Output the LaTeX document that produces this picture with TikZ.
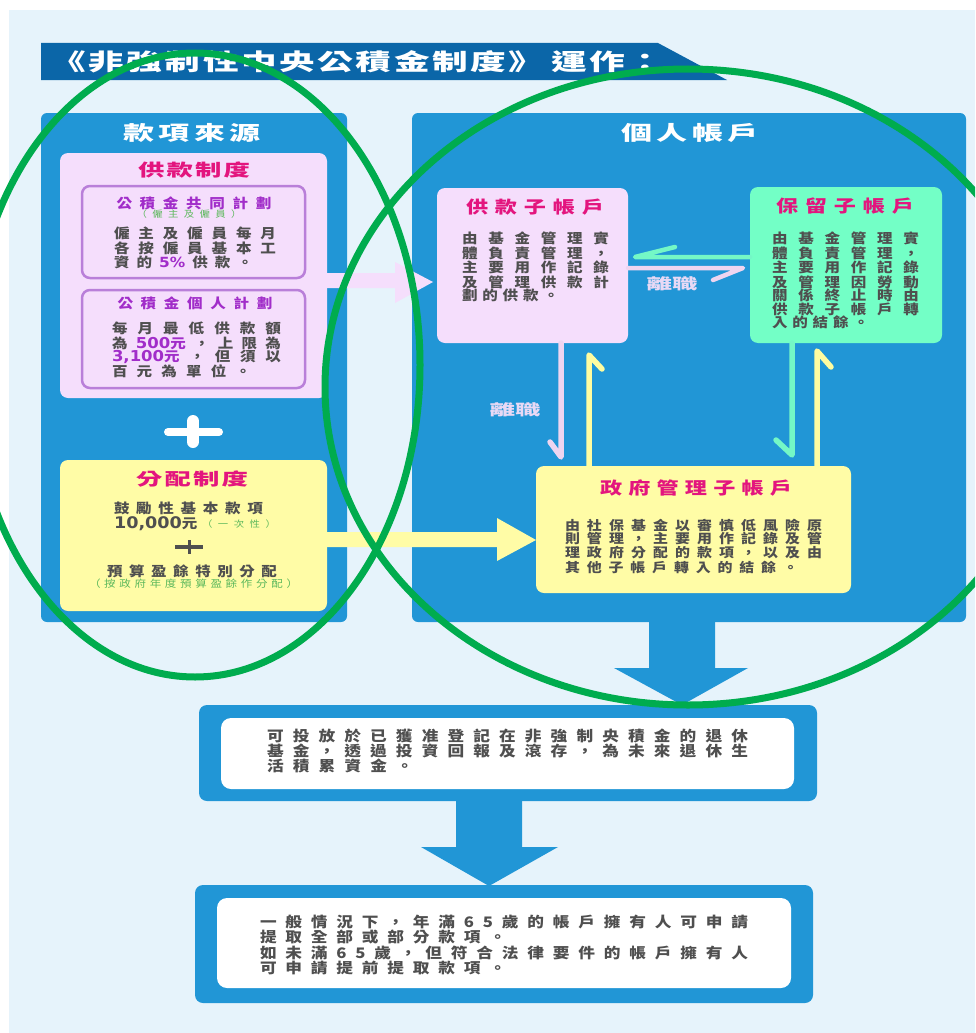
\documentclass[tikz,border=0pt]{standalone}
\usepackage{fontspec}
\usepackage{graphicx}
\newfontfamily\fb[FakeStretch=1.15]{Noto Sans CJK TC}
\newfontfamily\fm[FakeStretch=1.3]{Noto Sans CJK TC}
\newfontfamily\fw[FakeStretch=1.55]{Noto Sans CJK TC}
\newfontfamily\fx[FakeStretch=1.7]{Noto Sans CJK TC}
\newfontfamily\fd[FakeStretch=1.1]{DejaVu Sans}
\definecolor{bgc}{HTML}{E6F3FB}
\definecolor{pnl}{HTML}{2196D6}
\definecolor{ttl}{HTML}{0B66A8}
\definecolor{pk}{HTML}{F5DEFC}
\definecolor{pkb}{HTML}{B97FD9}
\definecolor{gr}{HTML}{73FFC6}
\definecolor{yl}{HTML}{FFFCA6}
\definecolor{mg}{HTML}{E3157E}
\definecolor{pu}{HTML}{A12DC9}
\definecolor{sg}{HTML}{5CB85C}
\definecolor{tx}{HTML}{4F4F4F}
\definecolor{lv}{HTML}{E8D9F5}
\definecolor{ring}{HTML}{00AC4E}
\definecolor{hgr}{HTML}{74F7C6}
\definecolor{hpk}{HTML}{EED5F0}
\definecolor{hyl}{HTML}{FFFCA0}
\makeatletter
\def\spr#1{\spr@a#1\spr@end}
\def\spr@end{\spr@end@x}
\def\spr@a#1{\ifx#1\spr@end\else#1\expandafter\spr@b\fi}
\def\spr@b#1{\ifx#1\spr@end\else\hfil#1\expandafter\spr@b\fi}
\makeatother
\newcommand\J[2]{\makebox[#1][s]{\spr{#2}}}
\newcommand\pnum[1]{{\fd\bfseries\fontsize{15}{15}\selectfont #1}}
\tikzset{
  panel/.style={anchor=north west, fill=pnl, rounded corners=6pt, inner sep=0pt, outer sep=0pt},
  card/.style={anchor=north west, rounded corners=8pt, inner sep=0pt, outer sep=0pt},
  wcard/.style={anchor=north west, fill=white, rounded corners=10pt, inner sep=0pt, outer sep=0pt},
  hdr/.style={inner sep=0pt, outer sep=0pt, text=white, font=\fw\bfseries\fontsize{20}{20}\selectfont},
  ctitle/.style={inner sep=0pt, outer sep=0pt, text=mg, font=\fw\bfseries\fontsize{17}{17}\selectfont},
  stitle/.style={inner sep=0pt, outer sep=0pt, text=mg, font=\fm\bfseries\fontsize{17}{17}\selectfont},
  ptitle/.style={inner sep=0pt, outer sep=0pt, text=pu, font=\fb\bfseries\fontsize{13.5}{14}\selectfont},
  small/.style={inner sep=0pt, outer sep=0pt, text=sg, font=\fb\fontsize{9}{9}\selectfont},
  body/.style={inner sep=0pt, outer sep=0pt, anchor=west, text=tx, font=\fb\bfseries\fontsize{13.5}{14}\selectfont},
  bodys/.style={body, font=\fb\bfseries\fontsize{13}{13}\selectfont},
  bodyl/.style={body, font=\fb\bfseries\fontsize{14.5}{15}\selectfont},
  lbl/.style={inner sep=0pt, outer sep=0pt, text=lv, font=\fx\bfseries\fontsize{15}{15}\selectfont},
  hph/.style={line width=4.5pt, line cap=round, line join=round},
  hpv/.style={line width=5.5pt, line cap=round, line join=round},
}
\begin{document}
\begin{tikzpicture}[x=1pt,y=-1pt]
\useasboundingbox (0,0) rectangle (975,1033);
\clip (0,0) rectangle (975,1033);
\fill[white] (0,0) rectangle (975,1033);
\fill[bgc] (9,10) rectangle (975,1033);

% title
\fill[ttl] (41,43) -- (658,43) -- (727,80) -- (41,80) -- cycle;
\node[anchor=west, inner sep=0pt, text=white, font=\fw\bfseries\fontsize{23}{23}\selectfont] (title) at (50,62)
  {\makebox[613pt][s]{\spr{《非強制性中央公積金制度》}\hspace{4pt}\hfil\spr{運作：}}};

% panels
\node[panel, minimum width=306pt, minimum height=509pt] (lp) at (41,113) {};
\node[panel, minimum width=554pt, minimum height=509pt] (rp) at (412,113) {};
\node[hdr] (lph) at (192,133) {\J{138pt}{款項來源}};
\node[hdr] (rph) at (690,133) {\J{138pt}{個人帳戶}};

% contribution system
\node[card, fill=pk, minimum width=267pt, minimum height=245pt] (pkb) at (60,153) {};
\node[ctitle] (pkt) at (194,170) {\J{112pt}{供款制度}};
\node[card, fill=pk, draw=pkb, line width=2.5pt, minimum width=223pt, minimum height=92pt] (s1) at (82,186) {};
\node[ptitle] (s1t) at (194,203) {\J{155pt}{公積金共同計劃}};
\node[small] (s1s) at (189,214) {\J{105pt}{（僱主及僱員）}};
\node[body] (s1a) at (114,233) {\J{162pt}{僱主及僱員每月}};
\node[body] (s1b) at (114,248) {\J{162pt}{各按僱員基本工}};
\node[body] (s1c) at (114,262) {\makebox[139pt][s]{資\hfil 的\hfil {\color{pu}{\fd\bfseries\fontsize{14}{14}\selectfont 5\%}}\hfil 供\hfil 款\hfil 。}};

\node[card, fill=pk, draw=pkb, line width=2.5pt, minimum width=223pt, minimum height=98pt] (s2) at (82,290) {};
\node[ptitle] (s2t) at (195,303) {\J{155pt}{公積金個人計劃}};
\node[body] (s2a) at (112,328) {\J{169pt}{每月最低供款額}};
\node[body] (s2b) at (112,343) {\makebox[169pt][s]{為\hfil {\color{pu}\pnum{500}元}\hfil ，\hfil 上\hfil 限\hfil 為}};
\node[body] (s2c) at (112,357) {\makebox[169pt][s]{{\color{pu}\pnum{3,100}元}\hfil ，\hfil 但\hfil 須\hfil 以}};
\node[body] (s2d) at (112,371) {\J{139pt}{百元為單位。}};

% white plus
\draw[white, line width=8pt, line cap=round] (168,432) -- (219,432);
\draw[white, line width=12pt, line cap=round] (193,421) -- (193,442);

% allocation system
\node[card, fill=yl, minimum width=267pt, minimum height=151pt] (ylb) at (60,460) {};
\node[ctitle] (ylt) at (192,479) {\J{112pt}{分配制度}};
\node[body] (yla) at (114,508) {\J{149pt}{鼓勵性基本款項}};
\node[body] (ylb2) at (114,524) {{\fd\bfseries\fontsize{16}{16}\selectfont 10,000}元};
\node[small, anchor=west] (ylc) at (202,524) {\J{74pt}{（一次性）}};
\draw[tx, line width=3.5pt] (175,547) -- (203,547);
\draw[tx, line width=3pt] (189,540) -- (189,554);
\node[body] (yld) at (107,571) {\J{170pt}{預算盈餘特別分配}};
\node[small, font=\fb\fontsize{10}{10}\selectfont] (yle) at (193.5,584) {\J{209pt}{（按政府年度預算盈餘作分配）}};

% sub-accounts
\node[card, fill=pk, minimum width=191pt, minimum height=155pt] (ka) at (437,188) {};
\node[stitle] (kat) at (535,207) {\J{138pt}{供款子帳戶}};
\node[body] at (462,238) {\J{147pt}{由基金管理實}};
\node[body] at (462,253) {\J{147pt}{體負責管理，}};
\node[body] at (462,267) {\J{147pt}{主要用作記錄}};
\node[body] at (462,282) {\J{147pt}{及管理供款計}};
\node[body] at (462,295) {\J{97pt}{劃的供款。}};

\node[card, fill=gr, minimum width=192pt, minimum height=156pt] (kb) at (750,187) {};
\node[stitle] (kbt) at (845,206) {\J{138pt}{保留子帳戶}};
\node[body] at (772,238) {\J{147pt}{由基金管理實}};
\node[body] at (772,253) {\J{147pt}{體負責管理，}};
\node[body] at (772,267) {\J{147pt}{主要用作記錄}};
\node[body] at (772,282) {\J{147pt}{及管理因勞動}};
\node[body] at (772,295) {\J{147pt}{關係終止時由}};
\node[body] at (772,309) {\J{147pt}{供款子帳戶轉}};
\node[body] at (772,322) {\J{97pt}{入的結餘。}};

\node[card, fill=yl, minimum width=315pt, minimum height=127pt] (kc) at (536,466) {};
\node[stitle] (kct) at (696,488) {\J{192pt}{政府管理子帳戶}};
\node[bodys] at (565,525) {\J{257pt}{由社保基金以審慎低風險原}};
\node[bodys] at (565,539) {\J{257pt}{則管理，主要用作記錄及管}};
\node[bodys] at (565,553) {\J{257pt}{理政府分配的款項，以及由}};
\node[bodys] at (565,567) {\J{233pt}{其他子帳戶轉入的結餘。}};

% block arrows from left panel
\fill[pk] (325,273) -- (395,273) -- (395,262) -- (433,282) -- (395,303) -- (395,288) -- (325,288) -- cycle;
\fill[yl] (327,532) -- (497,532) -- (497,518) -- (536,540) -- (497,561) -- (497,547) -- (327,547) -- cycle;

% harpoons
\coordinate (t1) at (635,257);
\coordinate (t2) at (743,268);
\coordinate (t3) at (561,457);
\coordinate (t4) at (589,355);
\coordinate (t5) at (792,455);
\coordinate (t6) at (817,351);
\draw[hph, draw=hgr] (kb.west |- t1) -- (t1) -- ++(40,-10);
\draw[hph, draw=hpk] (ka.east |- t2) -- (t2) -- ++(-30,12);
\draw[hpv, draw=hpk] (ka.south -| t3) -- (t3) -- ++(-11,-15);
\draw[hpv, draw=hyl] (kc.north -| t4) -- (t4) -- ++(13,14);
\draw[hpv, draw=hgr] (kb.south -| t5) -- (t5) -- ++(-16,-15);
\draw[hpv, draw=hyl] (kc.north -| t6) -- (t6) -- ++(14,16);
\node[lbl] (l1) at (672,284) {離職};
\node[lbl] (l2) at (515,410) {離職};

% bottom boxes
\fill[pnl] (649,618) -- (715,618) -- (715,668) -- (748,668) -- (682,705) -- (614,668) -- (649,668) -- cycle;
\node[card, fill=pnl, minimum width=618pt, minimum height=96pt] (b1) at (199,705) {};
\node[wcard, minimum width=573pt, minimum height=71pt] (w1) at (221,718) {};
\node[bodyl] at (267,736) {\J{481pt}{可投放於已獲准登記在非強制央積金的退休}};
\node[bodyl] at (267,751) {\J{481pt}{基金，透過投資回報及滾存，為未來退休生}};
\node[bodyl] at (267,766) {\J{146pt}{活積累資金。}};

\fill[pnl] (456,799) -- (522,799) -- (522,847) -- (558,847) -- (489,886) -- (421,847) -- (456,847) -- cycle;
\node[card, fill=pnl, minimum width=618pt, minimum height=118pt] (b2) at (195,885) {};
\node[wcard, minimum width=574pt, minimum height=90pt] (w2) at (217,898) {};
\node[bodyl] at (260,922) {\J{488pt}{一般情況下，年滿65歲的帳戶擁有人可申請}};
\node[bodyl] at (260,937) {\J{246pt}{提取全部或部分款項。}};
\node[bodyl] at (260,953) {\J{488pt}{如未滿65歲，但符合法律要件的帳戶擁有人}};
\node[bodyl] at (260,968) {\J{246pt}{可申請提前提取款項。}};

% green rings
\draw[ring, line width=7pt] (195,365) ellipse [x radius=225pt, y radius=312pt];
\draw[ring, line width=7pt] (688,387) ellipse [x radius=363pt, y radius=318pt];
\end{tikzpicture}
\end{document}
